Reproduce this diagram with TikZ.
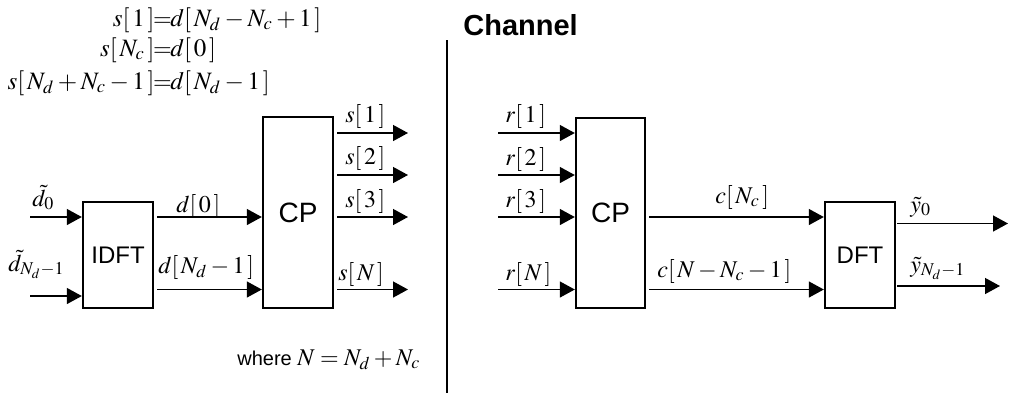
\documentclass[tikz,border=0pt]{standalone}
\usepackage{mathptmx}
\usepackage[no-math]{fontspec}
\setmainfont{Liberation Sans}
\usetikzlibrary{arrows.meta}
\begin{document}
\begin{tikzpicture}[x=0.5pt,y=-0.5pt,
  box/.style={draw, line width=1.2pt, inner sep=0pt, minimum width=35pt},
  sig/.style={line width=0.7pt, -{Triangle[length=7.5pt,width=8pt]}},
  lbl/.style={inner sep=0pt, anchor=base west, font=\fontsize{12}{14}\selectfont},
  eqL/.style={inner sep=0pt, anchor=base east, font=\fontsize{12.5}{15}\selectfont},
  eqM/.style={inner sep=0pt, anchor=base, font=\fontsize{12}{14}\selectfont},
  eqR/.style={inner sep=0pt, anchor=base west, font=\fontsize{12.5}{15}\selectfont},
]
\useasboundingbox (0,0) rectangle (1014,393);

% mapping of samples into the cyclic prefix
\node[eqL] (e1l) at (155,26) {$s[\,1\,]$};
\node[eqM] (e1m) at (162.5,26) {$=$};
\node[eqR] (e1r) at (170,26) {$d[\,N_d-N_c+1\,]$};
\node[eqL] (e2l) at (155,56) {$s[\,N_c\,]$};
\node[eqM] (e2m) at (162.5,56) {$=$};
\node[eqR] (e2r) at (170,56) {$d[\,0\,]$};
\node[eqL] (e3l) at (155,89) {$s[\,N_d+N_c-1\,]$};
\node[eqM] (e3m) at (162.5,89) {$=$};
\node[eqR] (e3r) at (170,89) {$d[\,N_d-1\,]$};

% channel separator
\coordinate (chTop) at (447,40);
\coordinate (chBot) at (447,393);
\draw[line width=1.4pt] (chTop) -- (chBot);
\node[inner sep=0pt, anchor=base west, font=\bfseries\fontsize{14.5}{17}\selectfont] (chan) at (463,35) {Channel};

% transmitter blocks
\node[box, minimum height=53pt, font=\fontsize{12}{14}\selectfont] (idft) at (118,255) {IDFT};
\node[box, minimum height=95.5pt, font=\fontsize{14}{16}\selectfont] (cpT) at (298,212.5) {CP};

% receiver blocks
\node[box, minimum height=95pt, minimum width=34.5pt, font=\fontsize{14}{16}\selectfont] (cpR) at (610.5,213) {CP};
\node[box, minimum height=53pt, font=\fontsize{12}{14}\selectfont] (dft) at (860,255) {DFT};

% IDFT inputs
\coordinate (inA) at (30,217);
\coordinate (inB) at (30,296);
\draw[sig] (inA) -- (idft.west |- inA);
\draw[sig] (inB) -- (idft.west |- inB);
\node[lbl] (ldA) at (32,206) {$\tilde{d}_0$};
\node[lbl] (ldB) at (8,271) {$\tilde{d}_{N_d-1}$};

% IDFT to CP
\coordinate (dA) at (157,217);
\coordinate (dB) at (157,289.5);
\draw[sig] (dA) -- (cpT.west |- dA);
\draw[sig] (dB) -- (cpT.west |- dB);
\node[lbl] (ld0) at (176,212) {$d[\,0\,]$};
\node[lbl] (ldN) at (158,273) {$d[\,N_d-1\,]$};

% CP outputs
\coordinate (s1a) at (337,133); \coordinate (s1b) at (408,133);
\coordinate (s2a) at (337,175); \coordinate (s2b) at (408,175);
\coordinate (s3a) at (337,217); \coordinate (s3b) at (408,217);
\coordinate (sNa) at (337,289.5); \coordinate (sNb) at (408,289.5);
\draw[sig] (s1a) -- (s1b);
\draw[sig] (s2a) -- (s2b);
\draw[sig] (s3a) -- (s3b);
\draw[sig] (sNa) -- (sNb);
\node[lbl] (ls1) at (345,122) {$s[\,1\,]$};
\node[lbl] (ls2) at (345,164) {$s[\,2\,]$};
\node[lbl] (ls3) at (345,207) {$s[\,3\,]$};
\node[lbl] (lsN) at (338,280) {$s[\,N\,]$};

\node[inner sep=0pt, anchor=base west] (where) at (237,365)
  {\fontsize{10}{12}\selectfont where \fontsize{12}{14}\selectfont$N=N_d+N_c$};

% receiver CP inputs
\coordinate (r1) at (498,133);
\coordinate (r2) at (498,175);
\coordinate (r3) at (498,217);
\coordinate (rN) at (498,289.5);
\draw[sig] (r1) -- (cpR.west |- r1);
\draw[sig] (r2) -- (cpR.west |- r2);
\draw[sig] (r3) -- (cpR.west |- r3);
\draw[sig] (rN) -- (cpR.west |- rN);
\node[lbl] (lr1) at (505,122) {$r[\,1\,]$};
\node[lbl] (lr2) at (505,165) {$r[\,2\,]$};
\node[lbl] (lr3) at (505,207) {$r[\,3\,]$};
\node[lbl] (lrN) at (505,280) {$r[\,N\,]$};

% CP to DFT
\coordinate (cA) at (649,217);
\coordinate (cB) at (649,289.5);
\draw[sig] (cA) -- (dft.west |- cA);
\draw[sig] (cB) -- (dft.west |- cB);
\node[lbl] (lcA) at (715,203) {$c[\,N_c\,]$};
\node[lbl] (lcB) at (657,277) {$c[\,N-N_c-1\,]$};

% DFT outputs
\coordinate (yA) at (897,223.5); \coordinate (yAe) at (1008,223.5);
\coordinate (yB) at (897,286); \coordinate (yBe) at (1000,286);
\draw[sig] (yA) -- (yAe);
\draw[sig] (yB) -- (yBe);
\node[lbl] (lyA) at (910,212) {$\tilde{y}_0$};
\node[lbl] (lyB) at (910,272) {$\tilde{y}_{N_d-1}$};
\end{tikzpicture}
\end{document}
